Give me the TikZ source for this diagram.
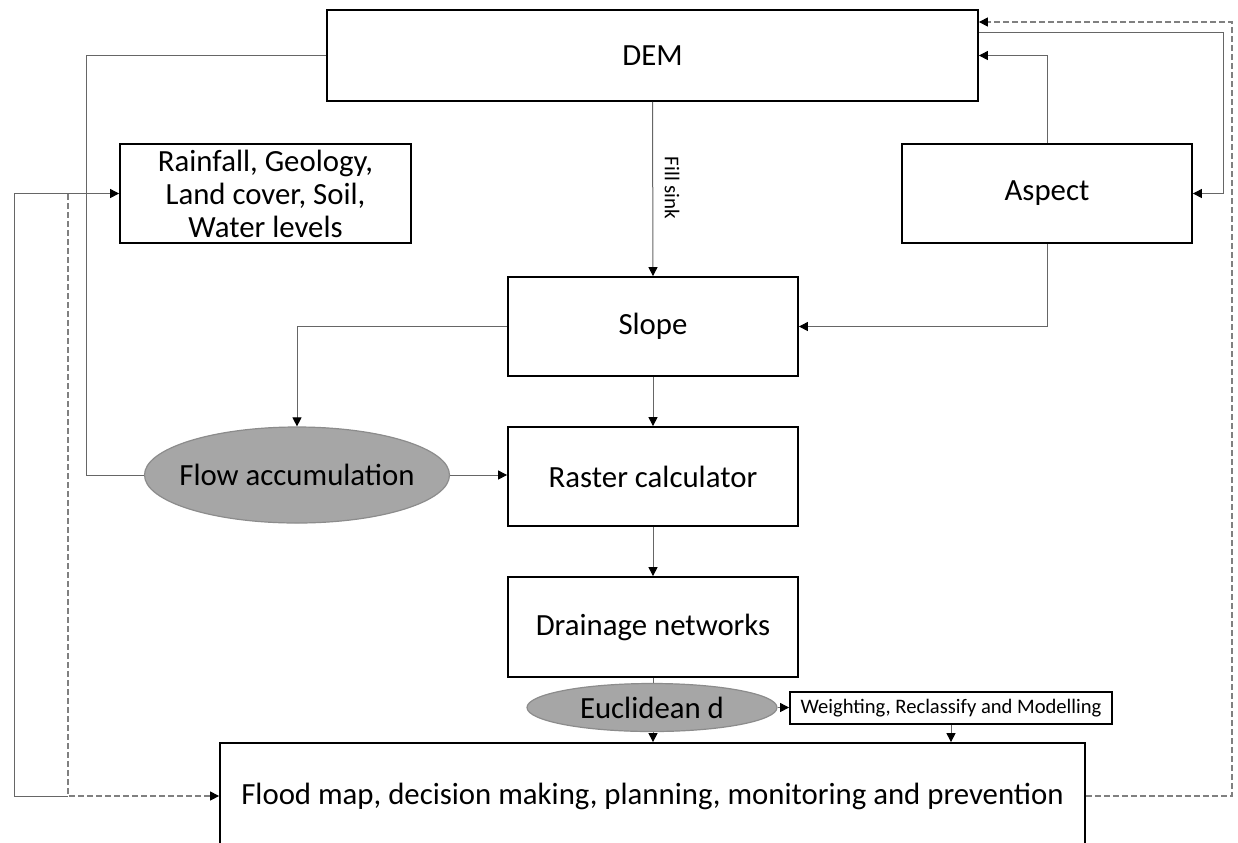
\documentclass[tikz,border=0pt]{standalone}
\usepackage{fontspec}
\setmainfont{Carlito}
\usetikzlibrary{arrows.meta,shapes.geometric}
\begin{document}
\begin{tikzpicture}[x=0.5pt,y=-0.5pt,
  box/.style={draw=black, line width=0.9pt, inner sep=0pt, align=center, font=\fontsize{15.4}{16.5}\selectfont},
  oval/.style={ellipse, draw=black!45, fill=black!35, line width=0.6pt, inner sep=0pt, font=\fontsize{15.4}{16.5}\selectfont},
  conn/.style={draw=black!60, line width=0.5pt, -{Triangle[length=4.5pt,width=4.5pt,black]}},
  plain/.style={draw=black!60, line width=0.5pt},
  dconn/.style={draw=black!50, line width=0.6pt, dash pattern=on 3pt off 1.5pt, -{Triangle[length=4.5pt,width=4.5pt,black]}}]
\useasboundingbox (0,0) rectangle (1238,842);
\clip (0,0) rectangle (1238,842);
\fill[white] (0,0) rectangle (1238,842);

\node[box, minimum width=325.5pt, minimum height=45.5pt] (dem) at (652.5,55.5) {DEM};
\node[box, minimum width=145.5pt, minimum height=49.5pt] (rain) at (265.5,193.5) {Rainfall, Geology,\\Land cover, Soil,\\Water levels};
\node[box, minimum width=145pt, minimum height=49.5pt] (aspect) at (1047,193.5) {Aspect};
\node[box, minimum width=145pt, minimum height=49.5pt] (slope) at (653,326.5) {Slope};
\node[box, minimum width=145pt, minimum height=49.5pt] (raster) at (653,476.5) {Raster calculator};
\node[box, minimum width=145pt, minimum height=50pt] (drain) at (653,627) {Drainage networks};
\node[oval, inner xsep=-12pt, minimum width=152.5pt, minimum height=48pt] (flow) at (297,475) {Flow accumulation};
\node[oval, inner xsep=-4pt, minimum width=125pt, minimum height=24pt] (eucl) at (652,707.5) {Euclidean d};
\node[box, minimum width=161pt, minimum height=16pt, font=\fontsize{10.3}{11}\selectfont] (weight) at (951,708) {Weighting, Reclassify and Modelling};
\node[box, minimum width=432.5pt, minimum height=60pt] (flood) at (652.5,803) {};
\node[font=\fontsize{15.4}{16.5}\selectfont] (floodtxt) at (652.5,796) {Flood map, decision making, planning, monitoring and prevention};

\node[rotate=-90, font=\fontsize{10.5}{11}\selectfont] (fill) at (672,188) {Fill sink};

\coordinate (lt) at (68,194);
\coordinate (lb) at (68,796);

% connectors
\draw[conn] (dem.south) -- (slope.north);
\draw[plain] (dem.west) -- (86,55.5) |- (flow.west);
\draw[conn] (slope.west) -| (flow.north);
\draw[conn] (slope.south) -- (raster.north);
\draw[conn] (raster.south) -- (drain.north);
\draw[conn] (flow.east) -- (flow.east -| raster.west);
\draw[conn] (aspect.north) |- (dem.east);
\draw[conn] (dem.east |- 0,32) -- (1223,32) |- (aspect.east);
\draw[conn] (aspect.south) |- (slope.east);
\draw[plain] (drain.south) -- (drain.south |- eucl.north);
\draw[conn] (eucl.south -| drain.south) -- (drain.south |- flood.north);
\draw[conn] (eucl.east) -- (weight.west |- eucl.east);
\draw[conn] (weight.south) -- (weight.south |- flood.north);
\draw[dconn] (flood.east |- lb) -- (1232,796) -- (1232,22) -- (dem.east |- 0,22);
\draw[conn] (lb) -- (14,796) |- (rain.west);
\draw[dconn] (lt) -- (lb) -- (flood.west |- lb);
\end{tikzpicture}
\end{document}
